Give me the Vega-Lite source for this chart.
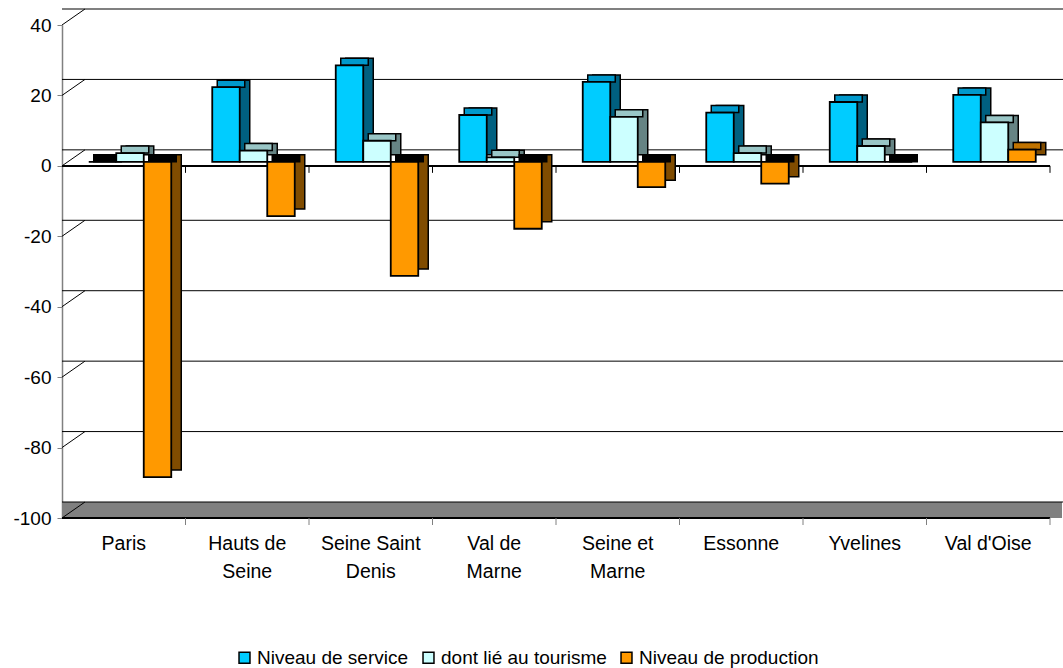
{
  "$schema": "https://vega.github.io/schema/vega-lite/v6.json",
  "autosize": {"type": "none"},
  "width": 988,
  "height": 493,
  "padding": {"left": 62, "top": 25, "right": 13, "bottom": 150},
  "background": "#ffffff",
  "config": {
    "view": {"stroke": null},
    "font": "Liberation Sans"
  },
  "title": {
    "text": "(pour 1000 habitants)",
    "fontSize": 22,
    "fontWeight": "bold",
    "font": "Liberation Sans",
    "color": "#000000",
    "anchor": "middle",
    "baseline": "alphabetic",
    "offset": 25,
    "dx": 45
  },
  "data": {
    "values": [
      {"region": "Paris", "serie": "Niveau de service", "v": 0},
      {"region": "Paris", "serie": "dont lié au tourisme", "v": 2.5},
      {"region": "Paris", "serie": "Niveau de production", "v": -89.5},
      {"region": "Hauts de Seine", "serie": "Niveau de service", "v": 21.2},
      {"region": "Hauts de Seine", "serie": "dont lié au tourisme", "v": 3.2},
      {"region": "Hauts de Seine", "serie": "Niveau de production", "v": -15.4},
      {"region": "Seine Saint Denis", "serie": "Niveau de service", "v": 27.4},
      {"region": "Seine Saint Denis", "serie": "dont lié au tourisme", "v": 6.0},
      {"region": "Seine Saint Denis", "serie": "Niveau de production", "v": -32.4},
      {"region": "Val de Marne", "serie": "Niveau de service", "v": 13.3},
      {"region": "Val de Marne", "serie": "dont lié au tourisme", "v": 1.3},
      {"region": "Val de Marne", "serie": "Niveau de production", "v": -19.0},
      {"region": "Seine et Marne", "serie": "Niveau de service", "v": 22.7},
      {"region": "Seine et Marne", "serie": "dont lié au tourisme", "v": 12.8},
      {"region": "Seine et Marne", "serie": "Niveau de production", "v": -7.2},
      {"region": "Essonne", "serie": "Niveau de service", "v": 14.0},
      {"region": "Essonne", "serie": "dont lié au tourisme", "v": 2.5},
      {"region": "Essonne", "serie": "Niveau de production", "v": -6.2},
      {"region": "Yvelines", "serie": "Niveau de service", "v": 17.0},
      {"region": "Yvelines", "serie": "dont lié au tourisme", "v": 4.5},
      {"region": "Yvelines", "serie": "Niveau de production", "v": 0},
      {"region": "Val d'Oise", "serie": "Niveau de service", "v": 19.0},
      {"region": "Val d'Oise", "serie": "dont lié au tourisme", "v": 11.2},
      {"region": "Val d'Oise", "serie": "Niveau de production", "v": 3.5}
    ]
  },
  "layer": [
    {
      "description": "floor slab",
      "mark": {"type": "rule", "color": "#808080", "strokeWidth": 16, "yOffset": -8, "xOffset": 12, "x2Offset": 12},
      "encoding": {"y": {"datum": -100}}
    },
    {
      "description": "back wall gridlines",
      "data": {"values": [{"g": 40}, {"g": 20}, {"g": 0}, {"g": -20}, {"g": -40}, {"g": -60}, {"g": -80}, {"g": -100}]},
      "mark": {"type": "rule", "xOffset": 23, "x2Offset": 23, "yOffset": -16},
      "encoding": {
        "y": {"field": "g", "type": "quantitative"},
        "color": {"condition": {"test": "datum.g == 40", "value": "#808080"}, "value": "#000000"},
        "strokeWidth": {"condition": {"test": "datum.g == 40", "value": 2}, "value": 1}
      }
    },
    {
      "description": "side wall diagonals",
      "data": {"values": [{"g": 40}, {"g": 20}, {"g": 0}, {"g": -20}, {"g": -40}, {"g": -60}, {"g": -80}, {"g": -100}]},
      "mark": {"type": "rule", "y2Offset": -16, "color": "#000000", "strokeWidth": 1},
      "encoding": {
        "x": {"datum": "Paris", "type": "nominal", "bandPosition": 0},
        "x2": {"datum": "Paris", "bandPosition": 0.186},
        "y": {"field": "g", "type": "quantitative"},
        "y2": {"field": "g"}
      }
    },
    {
      "description": "floor front edge",
      "mark": {"type": "rule", "color": "#000000", "strokeWidth": 1},
      "encoding": {"y": {"datum": -100}}
    },
    {
      "description": "category ticks under the floor",
      "transform": [{"filter": "datum.serie == 'Niveau de service'"}],
      "mark": {"type": "rule", "color": "#808080", "strokeWidth": 1, "y2Offset": 7},
      "encoding": {
        "x": {"field": "region", "type": "nominal", "sort": null, "bandPosition": 1},
        "y": {"datum": -100},
        "y2": {"datum": -100}
      }
    },
    {
      "description": "zero line",
      "mark": {"type": "rule", "color": "#000000", "strokeWidth": 1},
      "encoding": {"y": {"datum": 0}}
    },
    {
      "description": "category ticks on the zero line",
      "transform": [{"filter": "datum.serie == 'Niveau de service'"}],
      "mark": {"type": "rule", "color": "#000000", "strokeWidth": 1, "y2Offset": 7},
      "encoding": {
        "x": {"field": "region", "type": "nominal", "sort": null, "bandPosition": 1},
        "y": {"datum": 0},
        "y2": {"datum": 0}
      }
    },
    {
      "description": "side faces, service",
      "transform": [{"filter": "datum.serie == 'Niveau de service' && datum.v != 0"}],
      "mark": {"type": "bar", "width": 27.5, "fill": "#006080", "stroke": "#000000", "strokeWidth": 1.5, "xOffset": -11.25, "yOffset": -11, "y2Offset": -11},
      "encoding": {
        "x": {"field": "region", "type": "nominal", "sort": null},
        "y": {"field": "v", "type": "quantitative"}
      }
    },
    {
      "description": "side faces, tourism",
      "transform": [{"filter": "datum.serie == 'dont lié au tourisme' && datum.v != 0"}],
      "mark": {"type": "bar", "width": 27.5, "fill": "#668484", "stroke": "#000000", "strokeWidth": 1.5, "xOffset": 16.25, "yOffset": -11, "y2Offset": -11},
      "encoding": {
        "x": {"field": "region", "type": "nominal", "sort": null},
        "y": {"field": "v", "type": "quantitative"}
      }
    },
    {
      "description": "side faces, production",
      "transform": [{"filter": "datum.serie == 'Niveau de production' && datum.v != 0"}],
      "mark": {"type": "bar", "width": 27.5, "fill": "#804C00", "stroke": "#000000", "strokeWidth": 1.5, "xOffset": 43.75, "yOffset": -11, "y2Offset": -11},
      "encoding": {
        "x": {"field": "region", "type": "nominal", "sort": null},
        "y": {"field": "v", "type": "quantitative"}
      }
    },
    {
      "description": "top faces, service",
      "transform": [{"filter": "datum.serie == 'Niveau de service' && datum.v > 0"}],
      "mark": {"type": "bar", "width": 27.5, "fill": "#0099CC", "stroke": "#000000", "strokeWidth": 1.5, "xOffset": -16.25, "yOffset": -11, "y2Offset": -4},
      "encoding": {
        "x": {"field": "region", "type": "nominal", "sort": null},
        "y": {"field": "v", "type": "quantitative"},
        "y2": {"field": "v"}
      }
    },
    {
      "description": "top faces, tourism",
      "transform": [{"filter": "datum.serie == 'dont lié au tourisme' && datum.v > 0"}],
      "mark": {"type": "bar", "width": 27.5, "fill": "#99C6C6", "stroke": "#000000", "strokeWidth": 1.5, "xOffset": 11.25, "yOffset": -11, "y2Offset": -4},
      "encoding": {
        "x": {"field": "region", "type": "nominal", "sort": null},
        "y": {"field": "v", "type": "quantitative"},
        "y2": {"field": "v"}
      }
    },
    {
      "description": "top faces, production",
      "transform": [{"filter": "datum.serie == 'Niveau de production' && datum.v > 0"}],
      "mark": {"type": "bar", "width": 27.5, "fill": "#C07300", "stroke": "#000000", "strokeWidth": 1.5, "xOffset": 38.75, "yOffset": -11, "y2Offset": -4},
      "encoding": {
        "x": {"field": "region", "type": "nominal", "sort": null},
        "y": {"field": "v", "type": "quantitative"},
        "y2": {"field": "v"}
      }
    },
    {
      "description": "shaded tops of empty or negative service bars",
      "transform": [{"filter": "datum.serie == 'Niveau de service' && datum.v <= 0"}],
      "mark": {"type": "bar", "width": 27.5, "fill": "#000000", "stroke": "#000000", "strokeWidth": 1.5, "xOffset": -16.25, "yOffset": -11, "y2Offset": -4},
      "encoding": {
        "x": {"field": "region", "type": "nominal", "sort": null},
        "y": {"datum": 0},
        "y2": {"datum": 0}
      }
    },
    {
      "description": "shaded tops of empty or negative production bars",
      "transform": [{"filter": "datum.serie == 'Niveau de production' && datum.v <= 0"}],
      "mark": {"type": "bar", "width": 27.5, "fill": "#000000", "stroke": "#000000", "strokeWidth": 1.5, "xOffset": 38.75, "yOffset": -11, "y2Offset": -4},
      "encoding": {
        "x": {"field": "region", "type": "nominal", "sort": null},
        "y": {"datum": 0},
        "y2": {"datum": 0}
      }
    },
    {
      "description": "service bars",
      "transform": [{"filter": "datum.serie == 'Niveau de service'"}],
      "mark": {"type": "bar", "width": 27.5, "stroke": "#000000", "strokeWidth": 1.8, "xOffset": -21.25, "yOffset": -4, "y2Offset": -4},
      "encoding": {
        "x": {
          "field": "region",
          "type": "nominal",
          "sort": null,
          "title": null,
          "scale": {"paddingInner": 0, "paddingOuter": 0},
          "axis": {
            "orient": "bottom",
            "domain": false,
            "ticks": false,
            "labelAngle": 0,
            "labelAlign": "center",
            "labelFontSize": 19.5,
            "labelColor": "#000000",
            "labelFont": "Liberation Sans",
            "labelPadding": 16,
            "labelLineHeight": 28,
            "labelBaseline": "top",
            "labelExpr": "datum.label == 'Hauts de Seine' ? ['Hauts de', 'Seine'] : datum.label == 'Seine Saint Denis' ? ['Seine Saint', 'Denis'] : datum.label == 'Val de Marne' ? ['Val de', 'Marne'] : datum.label == 'Seine et Marne' ? ['Seine et', 'Marne'] : datum.label"
          }
        },
        "y": {
          "field": "v",
          "type": "quantitative",
          "title": null,
          "scale": {"domain": [-100, 40], "nice": false, "zero": false},
          "axis": {
            "values": [-100, -80, -60, -40, -20, 0, 20, 40],
            "labelExpr": "toString(datum.value)",
            "grid": false,
            "domainColor": "#808080",
            "domainWidth": 1.5,
            "tickColor": "#808080",
            "tickSize": 5,
            "labelFontSize": 19,
            "labelColor": "#000000",
            "labelFont": "Liberation Sans",
            "labelPadding": 6
          }
        },
        "color": {
          "field": "serie",
          "type": "nominal",
          "sort": null,
          "title": null,
          "scale": {
            "domain": ["Niveau de service", "dont lié au tourisme", "Niveau de production"],
            "range": ["#00CCFF", "#CCFFFF", "#FF9900"]
          },
          "legend": {
            "orient": "none",
            "direction": "horizontal",
            "columns": 3,
            "legendX": 173,
            "legendY": 623,
            "symbolType": "square",
            "symbolSize": 120,
            "symbolStrokeColor": "#000000",
            "symbolStrokeWidth": 1.5,
            "symbolOpacity": 1,
            "labelFontSize": 19,
            "labelFont": "Liberation Sans",
            "labelColor": "#000000",
            "labelOffset": 3,
            "labelLimit": 400,
            "columnPadding": 10
          }
        }
      }
    },
    {
      "description": "tourism bars",
      "transform": [{"filter": "datum.serie == 'dont lié au tourisme'"}],
      "mark": {"type": "bar", "width": 27.5, "stroke": "#000000", "strokeWidth": 1.8, "xOffset": 6.25, "yOffset": -4, "y2Offset": -4},
      "encoding": {
        "x": {"field": "region", "type": "nominal", "sort": null},
        "y": {"field": "v", "type": "quantitative"},
        "color": {"field": "serie", "type": "nominal", "sort": null}
      }
    },
    {
      "description": "production bars",
      "transform": [{"filter": "datum.serie == 'Niveau de production'"}],
      "mark": {"type": "bar", "width": 27.5, "stroke": "#000000", "strokeWidth": 1.8, "xOffset": 33.75, "yOffset": -4, "y2Offset": -4},
      "encoding": {
        "x": {"field": "region", "type": "nominal", "sort": null},
        "y": {"field": "v", "type": "quantitative"},
        "color": {"field": "serie", "type": "nominal", "sort": null}
      }
    }
  ]
}
